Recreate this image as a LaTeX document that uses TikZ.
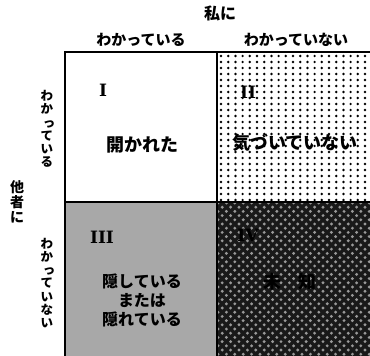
\documentclass[tikz,border=0pt]{standalone}
\usepackage{fontspec}
\newfontfamily\jp{Noto Sans CJK JP}
\newfontfamily\romanfont{DejaVu Serif}
\newcommand{\smalltsu}{\makebox[1em][c]{\hspace{0.35em}っ}}
\begin{document}
\begin{tikzpicture}[x=1pt,y=-1pt,
  hdr/.style={font=\jp\bfseries\fontsize{15}{15}\selectfont, inner sep=0pt},
  celltxt/.style={font=\jp\bfseries\fontsize{18}{18}\selectfont, inner sep=0pt},
  multitxt/.style={font=\jp\bfseries\fontsize{16}{19}\selectfont, inner sep=0pt, align=center},
  vtxt/.style={font=\jp\bfseries\fontsize{12.5}{13.2}\selectfont, inner sep=0pt, align=center},
  vtxtbig/.style={font=\jp\bfseries\fontsize{14}{15}\selectfont, inner sep=0pt, align=center},
  roman/.style={font=\romanfont\bfseries\fontsize{17}{17}\selectfont, inner sep=0pt},
  grid line/.style={line width=2pt, black}]
\useasboundingbox (0,0) rectangle (370,356);
\fill[white] (0,0) rectangle (370,356);
% cell II: white with black dots
\begin{scope}
  \clip (217,52) rectangle (370,202);
  \foreach \i in {0,...,21} \foreach \j in {0,...,25}
    \fill[black] (221+\i*7.2, 56+\j*6) circle (1.35pt);
\end{scope}
% cell III: grey
\fill[black!34] (65,202) rectangle (217,356);
% cell IV: dark with light dots
\begin{scope}
  \clip (217,202) rectangle (370,356);
  \fill[black!90] (217,202) rectangle (370,356);
  \foreach \i in {0,...,38} \foreach \j in {0,...,38} {
    \pgfmathparse{mod(\i+\j,2)==0 ? 1 : 0}
    \ifnum\pgfmathresult=1
      \fill[black!40] (218+\i*4.2, 203+\j*4.2) circle (1.6pt);
    \fi
  }
\end{scope}
% grid lines
\draw[grid line] (65,356) -- (65,52) -- (370,52);
\draw[grid line] (217,52) -- (217,356);
\draw[grid line] (65,202) -- (370,202);
% headings
\node[hdr, font=\jp\bfseries\fontsize{16}{16}\selectfont] (me) at (220,13) {私に};
\node[hdr] (meknow) at (141,40) {わかっている};
\node[hdr] (menot) at (296,40) {わかっていない};
\node[vtxtbig] (others) at (17,202) {他\\者\\に};
\node[vtxt] (othknow) at (47,129) {わ\\か\\\smalltsu\\て\\い\\る};
\node[vtxt] (othnot) at (47,283) {わ\\か\\\smalltsu\\て\\い\\な\\い};
% cell labels
\node[roman] (r1) at (103,90) {I};
\node[roman] (r2) at (248,92) {II};
\node[roman] (r3) at (102,237) {III};
\node[roman] (r4) at (248,235) {IV};
\node[celltxt] (t1) at (142,145) {開かれた};
\node[celltxt] (t2) at (295,143) {気づいていない};
\node[multitxt] (t3) at (142,300) {隠している\\または\\隠れている};
\node[celltxt] (t4) at (290,282) {未\hspace{17pt}知};
\end{tikzpicture}
\end{document}
